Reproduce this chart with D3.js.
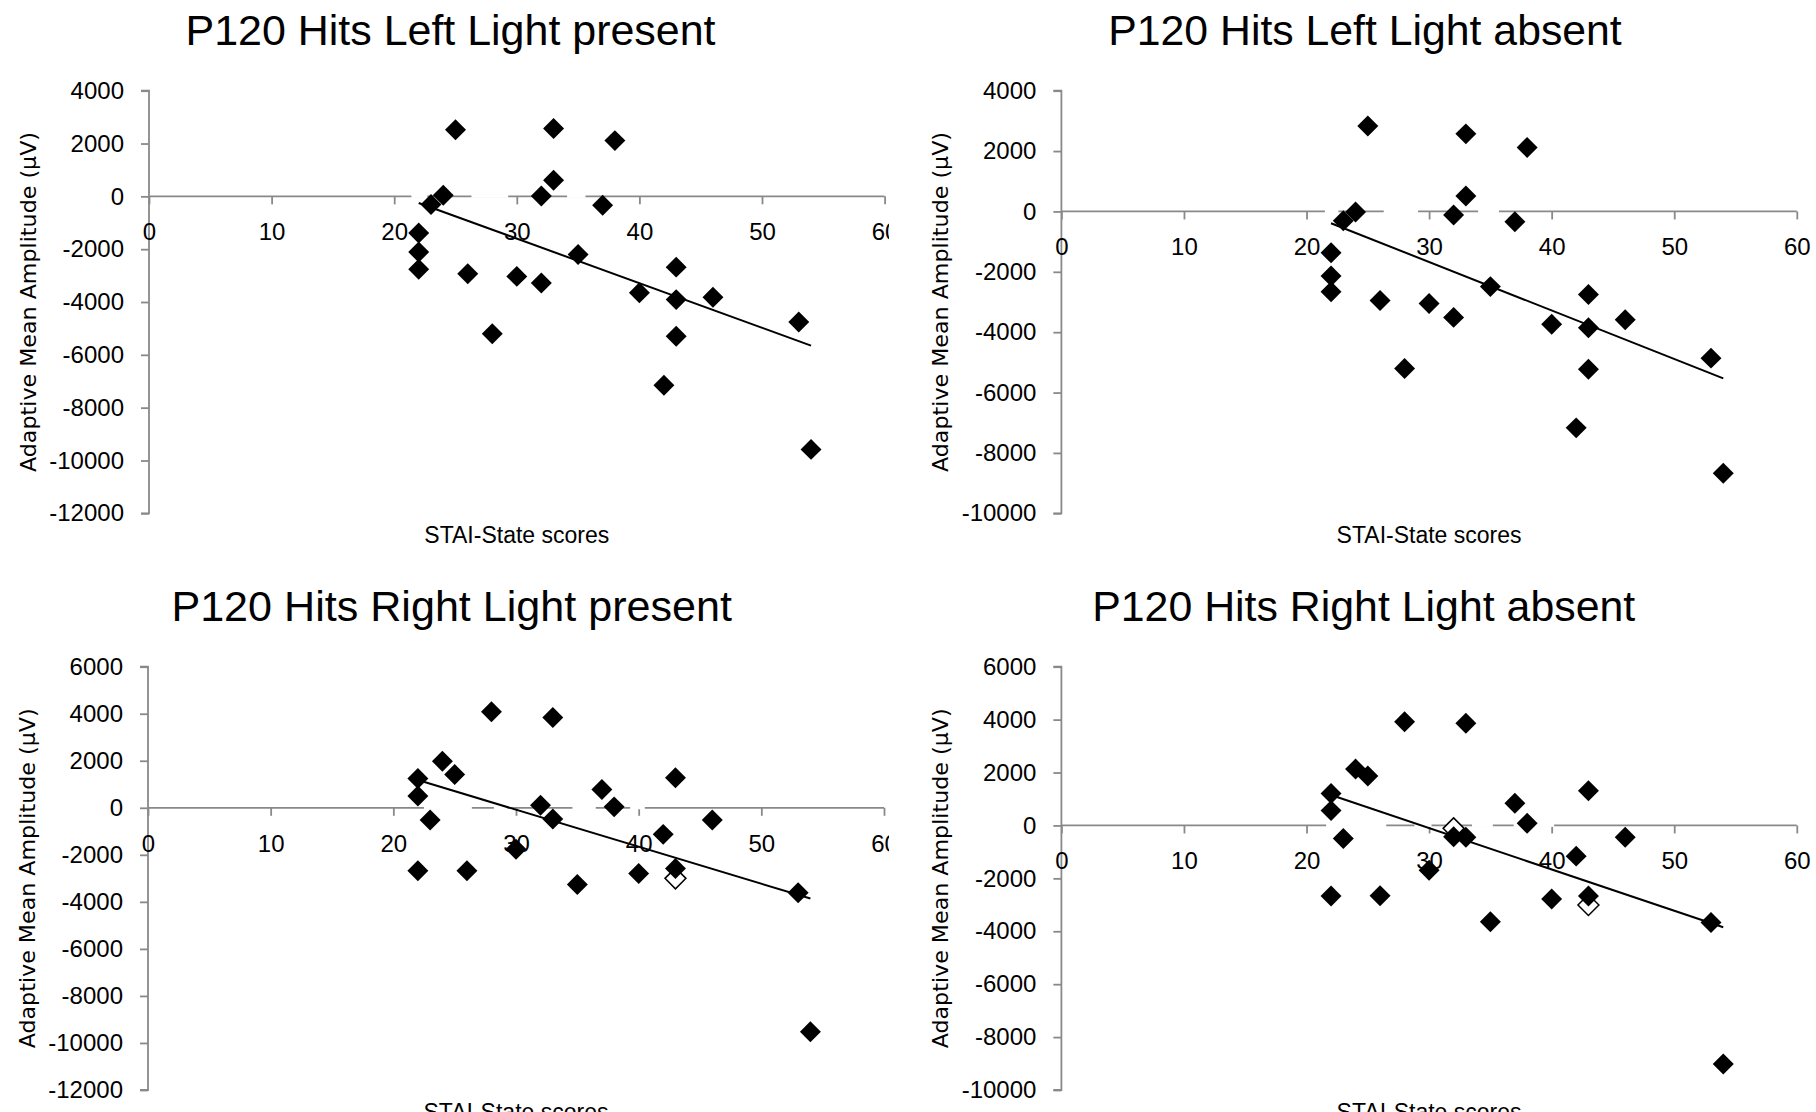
<!DOCTYPE html>
<html><head><meta charset="utf-8">
<script src="https://cdn.jsdelivr.net/npm/d3@7"></script>
<style>body{margin:0;background:#fff;overflow:hidden}svg{display:block}</style>
</head><body>
<svg id="chart" width="1816" height="1112"></svg>
<script>
// ---------------- DATA ----------------
const chartTitles = [
  "P120 Hits Left Light present",
  "P120 Hits Left Light absent",
  "P120 Hits Right Light present",
  "P120 Hits Right Light absent"
];
const xAxisTitle = "STAI-State scores";
const yAxisTitle = "Adaptive Mean Amplitude (µV)";
const xTickValues = [0, 10, 20, 30, 40, 50, 60];
const yTicksP1 = [4000, 2000, 0, -2000, -4000, -6000, -8000, -10000, -12000];
const yTicksP2 = [4000, 2000, 0, -2000, -4000, -6000, -8000, -10000];
const yTicksP3 = [6000, 4000, 2000, 0, -2000, -4000, -6000, -8000, -10000, -12000];
const yTicksP4 = [6000, 4000, 2000, 0, -2000, -4000, -6000, -8000, -10000];

const staiP1 = [22,22,22,23,24,25,26,28,30,32,32,33,33,35,37,38,40,42,43,43,43,46,53,54];
const ampP1  = [-1390,-2110,-2760,-310,40,2520,-2930,-5200,-3030,10,-3280,2570,610,-2200,-340,2110,-3650,-7150,-2680,-3910,-5300,-3820,-4760,-9580];

const staiP2 = [22,22,22,23,24,25,26,28,30,32,32,33,33,35,37,38,40,42,43,43,43,46,53,54];
const ampP2  = [-1370,-2140,-2660,-310,-20,2830,-2950,-5200,-3050,-120,-3510,2570,510,-2490,-340,2120,-3740,-7170,-2750,-3850,-5230,-3590,-4860,-8670];

const staiP3 = [22,22,22,23,24,25,26,28,30,32,33,33,35,37,38,40,42,43,43,46,53,54];
const ampP3  = [1250,500,-2680,-520,1980,1420,-2680,4080,-1760,110,3840,-480,-3260,780,40,-2790,-1130,1280,-2580,-520,-3610,-9520];
const hollowStaiP3 = [43];
const hollowAmpP3  = [-3000];

const staiP4 = [22,22,22,23,24,25,26,28,30,32,33,33,35,37,38,40,42,43,43,46,53,54];
const ampP4  = [1210,560,-2670,-490,2130,1870,-2660,3920,-1690,-430,3860,-450,-3640,840,80,-2780,-1160,1310,-2670,-450,-3670,-9020];
const hollowStaiP4 = [32, 43];
const hollowAmpP4  = [-110, -3010];

// linear trendline end points (x, y)
const trendP1 = [[22, -250], [54, -5650]];
const trendP2 = [[22, -390], [54, -5530]];
const trendP3 = [[22, 1180], [54, -3860]];
const trendP4 = [[22, 1150], [54, -3850]];

// stretches of the zero axis hidden by a white (invisible) series line, in STAI units
const zeroGapsP1 = [[21.4, 22.7], [26.3, 29.3], [34.1, 35.6]];
const zeroGapsP2 = [[21.5, 22.6], [26.3, 29.1], [34.0, 35.7]];
const zeroGapsP3 = [[22.5, 26.4], [28.2, 29.3], [34.6, 36.5], [39.3, 40.5]];
const zeroGapsP4 = [[21.6, 26.5], [28.8, 30.2], [33.5, 35.2], [36.9, 37.6], [38.6, 40.2]];

// ---------------- LAYOUT ----------------
const FONT = "'Liberation Sans', Arial, sans-serif";
const AXIS_COLOR = "#898989";
const panels = [
  {title: chartTitles[0], tw: 530, tx: 450.5, ty: 45, x0: 149, x1: 884.6, y0: 90.7, y1: 513.3, yDom: [4000, -12000], yTicks: yTicksP1,
   xs: staiP1, ys: ampP1, hx: [], hy: [], trend: trendP1, gaps: zeroGapsP1, clip: true},
  {title: chartTitles[1], tw: 513.5, tx: 1365, ty: 45, x0: 1061.4, x1: 1796.8, y0: 90.7, y1: 513.3, yDom: [4000, -10000], yTicks: yTicksP2,
   xs: staiP2, ys: ampP2, hx: [], hy: [], trend: trendP2, gaps: zeroGapsP2, clip: false},
  {title: chartTitles[2], tw: 560.6, tx: 451.7, ty: 621, x0: 148, x1: 884, y0: 666.7, y1: 1090, yDom: [6000, -12000], yTicks: yTicksP3,
   xs: staiP3, ys: ampP3, hx: hollowStaiP3, hy: hollowAmpP3, trend: trendP3, gaps: zeroGapsP3, clip: true},
  {title: chartTitles[3], tw: 543, tx: 1363.7, ty: 621, x0: 1061.4, x1: 1796.8, y0: 666.7, y1: 1090, yDom: [6000, -10000], yTicks: yTicksP4,
   xs: staiP4, ys: ampP4, hx: hollowStaiP4, hy: hollowAmpP4, trend: trendP4, gaps: zeroGapsP4, clip: false}
];

const svg = d3.select("#chart");
svg.append("rect").attr("width", 1816).attr("height", 1112).attr("fill", "#fff");
const defs = svg.append("defs");
defs.append("clipPath").attr("id", "clipLeft").append("rect")
  .attr("x", 0).attr("y", 0).attr("width", 889).attr("height", 1112);

const diamond = d3.symbol().type(d3.symbolDiamond2).size(280);
const plainFormat = d => String(d);   // hyphen-minus like the original

panels.forEach((p, i) => {
  const g = svg.append("g");
  if (p.clip) g.attr("clip-path", "url(#clipLeft)");
  const x = d3.scaleLinear().domain([0, 60]).range([p.x0, p.x1]);
  const y = d3.scaleLinear().domain(p.yDom).range([p.y0, p.y1]);

  // title
  g.append("text").attr("x", p.tx).attr("y", p.ty).attr("text-anchor", "middle")
    .attr("font-family", FONT).attr("font-size", 43).attr("fill", "#000")
    .attr("textLength", p.tw).attr("lengthAdjust", "spacingAndGlyphs")
    .text(p.title);

  // y axis (vertical, left)
  const yAxis = d3.axisLeft(y).tickValues(p.yTicks).tickSize(8).tickPadding(17).tickFormat(plainFormat);
  const ya = g.append("g").attr("transform", `translate(${p.x0},0)`).call(yAxis);
  ya.select(".domain").attr("stroke", AXIS_COLOR).attr("stroke-width", 1.8).attr("d", `M-8,${p.y0}H0V${p.y1}H-8`);
  ya.selectAll(".tick line").attr("stroke", AXIS_COLOR).attr("stroke-width", 1.8);
  ya.selectAll(".tick text").attr("font-family", FONT).attr("font-size", 24).attr("fill", "#000");

  // x axis crossing at 0
  const xAxis = d3.axisBottom(x).tickValues(xTickValues).tickSize(8).tickPadding(19).tickFormat(plainFormat);
  const xa = g.append("g").attr("transform", `translate(0,${y(0)})`).call(xAxis);
  xa.select(".domain").attr("stroke", AXIS_COLOR).attr("stroke-width", 1.8).attr("d", `M${p.x0},0H${p.x1}`);
  xa.selectAll(".tick line").attr("stroke", AXIS_COLOR).attr("stroke-width", 1.8);
  xa.selectAll(".tick text").attr("font-family", FONT).attr("font-size", 24).attr("fill", "#000");

  // white hidden-series dashes over the zero axis
  g.append("g").selectAll("line").data(p.gaps).join("line")
    .attr("x1", d => x(d[0])).attr("x2", d => x(d[1]))
    .attr("y1", y(0)).attr("y2", y(0))
    .attr("stroke", "#fff").attr("stroke-width", 3);

  // axis titles
  g.append("text").attr("x", (p.x0 + p.x1) / 2).attr("y", p.y1 + 30).attr("text-anchor", "middle")
    .attr("font-family", FONT).attr("font-size", 23).attr("fill", "#000")
    .attr("textLength", 185).attr("lengthAdjust", "spacingAndGlyphs").text(xAxisTitle);
  g.append("text").attr("transform", `translate(${p.x0 - 113},${(p.y0 + p.y1) / 2}) rotate(-90)`)
    .attr("text-anchor", "middle").attr("font-family", "'DejaVu Sans', Verdana, sans-serif")
    .attr("font-size", 22).attr("fill", "#000")
    .attr("textLength", 340).attr("lengthAdjust", "spacingAndGlyphs").text(yAxisTitle);

  // hollow markers (second series)
  g.append("g").selectAll("path").data(d3.zip(p.hx, p.hy)).join("path")
    .attr("d", diamond).attr("transform", d => `translate(${x(d[0])},${y(d[1])})`)
    .attr("fill", "#fff").attr("stroke", "#000").attr("stroke-width", 1.5);

  // black diamond markers
  g.append("g").selectAll("path").data(d3.zip(p.xs, p.ys)).join("path")
    .attr("d", diamond).attr("transform", d => `translate(${x(d[0])},${y(d[1])})`)
    .attr("fill", "#000");

  // linear trendline
  g.append("path").datum(p.trend)
    .attr("d", d3.line().x(d => x(d[0])).y(d => y(d[1])))
    .attr("fill", "none").attr("stroke", "#000").attr("stroke-width", 2);
});
</script>
</body></html>
